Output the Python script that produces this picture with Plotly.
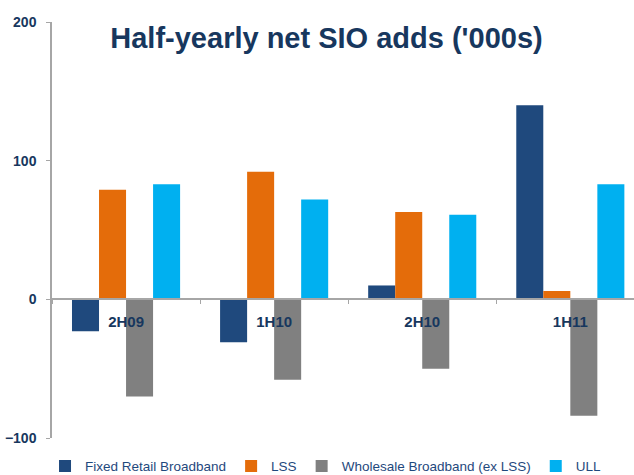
import plotly.graph_objects as go

categories = ["2H09", "1H10", "2H10", "1H11"]
fixed_retail = [-23, -31, 10, 140]
lss = [79, 92, 63, 6]
wholesale = [-70, -58, -50, -84]
ull = [83, 72, 61, 83]
y_ticks = [-100, 0, 100, 200]

series = [
    ("Fixed Retail Broadband", fixed_retail, "#1F497D"),
    ("LSS", lss, "#E46C0A"),
    ("Wholesale Broadband (ex LSS)", wholesale, "#808080"),
    ("ULL", ull, "#00B0F0"),
]

fig = go.Figure()
for name, vals, col in series:
    fig.add_trace(go.Bar(x=categories, y=vals, name=name, marker_color=col,
                         marker_line_width=0))

navy = "#17375E"
fig.update_layout(
    width=634, height=475,
    margin=dict(l=52, r=0, t=22, b=37, autoexpand=False),
    paper_bgcolor="white", plot_bgcolor="white",
    barmode="group", bargap=0.27, bargroupgap=0,
    font=dict(family="Liberation Sans, Arial, sans-serif", color=navy),
    title=dict(text="Half-yearly net SIO adds ('000s)", x=0.515, xanchor="center",
               y=0.92, yanchor="middle",
               font=dict(size=29, color=navy, weight="bold")),
    legend=dict(orientation="h", x=-0.012, xanchor="left", y=-0.068, yanchor="middle",
                font=dict(size=13.5, color="#1F497D"), bgcolor="rgba(0,0,0,0)",
                itemwidth=30, traceorder="normal"),
    showlegend=True,
)
fig.update_xaxes(range=[-0.5, 3.43], showline=True, linecolor="#A6A6A6", linewidth=1.5,
                 anchor="free", position=1/3, ticks="outside", tickson="boundaries",
                 ticklen=4, tickcolor="#A6A6A6", showgrid=False,
                 tickfont=dict(size=15, color=navy, weight="bold"),
                 layer="above traces", ticklabelstandoff=9)
fig.update_yaxes(range=[-100, 200], tickvals=y_ticks, showline=True, linecolor="#A6A6A6",
                 linewidth=1.5, ticks="outside", ticklen=4, tickcolor="#A6A6A6",
                 showgrid=False, zeroline=False, ticklabelstandoff=7,
                 tickfont=dict(size=14, color=navy, weight="bold"))

fig.write_html("out.html", config={"displayModeBar": False},
               post_script="document.body.style.margin='0px';")
